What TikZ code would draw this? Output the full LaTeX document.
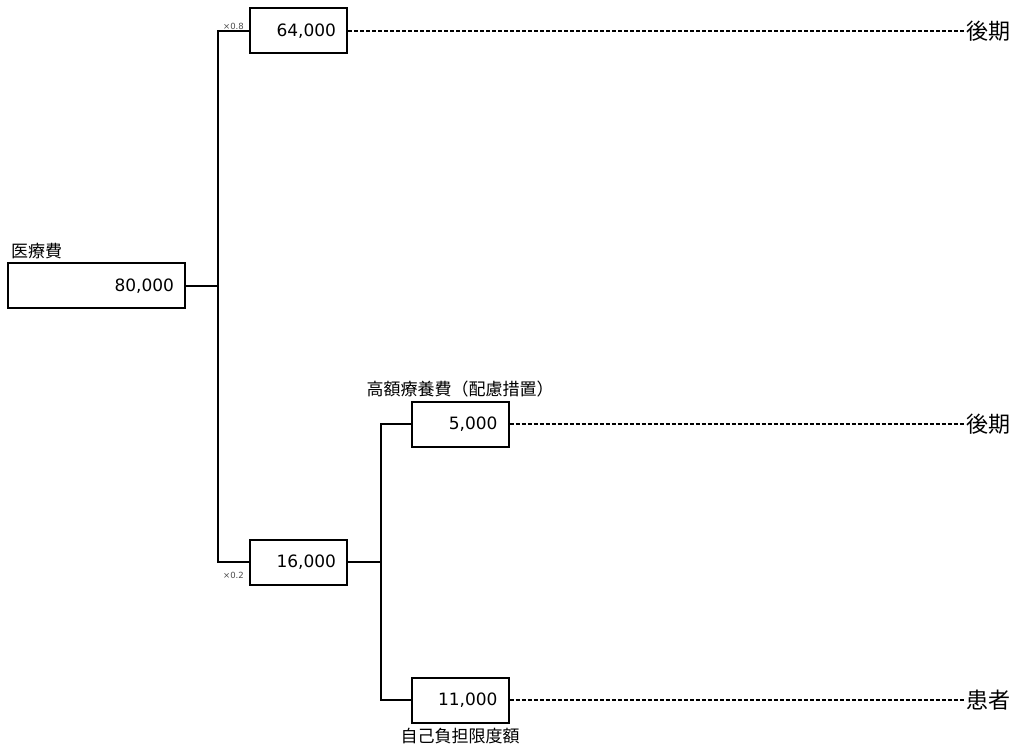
\documentclass[tikz,border=0pt]{standalone}
\usepackage{fontspec}
\setmainfont{DejaVu Sans}
\newfontfamily\jp{Noto Sans CJK JP}
\usetikzlibrary{positioning}
\begin{document}
\begin{tikzpicture}[x=1pt,y=-1pt,
  amount/.style={draw,line width=2pt,minimum height=45pt,inner xsep=11pt,inner ysep=0pt,align=right,font=\fontsize{17}{20}\selectfont},
  small/.style={amount,text width=75pt},
  wide/.style={amount,text width=155pt},
  link/.style={line width=2pt},
  share/.style={dash pattern=on 4pt off 2pt,line width=1.2pt},
  payer/.style={anchor=west,inner sep=1pt,font=\jp\fontsize{22}{24}\selectfont},
  caption/.style={inner sep=0pt,font=\jp\fontsize{17}{19}\selectfont},
  mult/.style={inner sep=0pt,font=\fontsize{8.5}{9}\selectfont,text=black!70}]
\useasboundingbox (0,0) rectangle (1013,746);
% amounts
\node[wide] (cost) at (96.5,286) {80,000};
\node[small] (old1) at (298.5,31) {64,000};
\node[small] (copay) at (298.5,562) {16,000};
\node[small] (care) at (460,424) {5,000};
\node[small] (limit) at (460,700) {11,000};
% captions
\node[caption, above right=3pt and 4pt of cost.north west] (costlbl) {医療費};
\node[caption, above=3.5pt of care] (carelbl) {高額療養費（配慮措置）};
\node[caption, below=4pt of limit] (limitlbl) {自己負担限度額};
\node[mult, above left=1pt and 5pt of old1.west] (m8) {×0.8};
\node[mult, below left=10pt and 5pt of copay.west] (m2) {×0.2};
% who pays
\node[payer] (pay1) at (965,31) {後期};
\node[payer] (pay2) at (965,424) {後期};
\node[payer] (pay3) at (965,700) {患者};
% connectors
\coordinate (fork1) at (218,286);
\coordinate (fork2) at (381,562);
\draw[link] (cost) -- (fork1);
\draw[link] (old1) -| (fork1) |- (copay);
\draw[link] (copay) -- (fork2);
\draw[link] (care) -| (fork2) |- (limit);
\draw[share] (old1) -- (pay1);
\draw[share] (care) -- (pay2);
\draw[share] (limit) -- (pay3);
\end{tikzpicture}
\end{document}
